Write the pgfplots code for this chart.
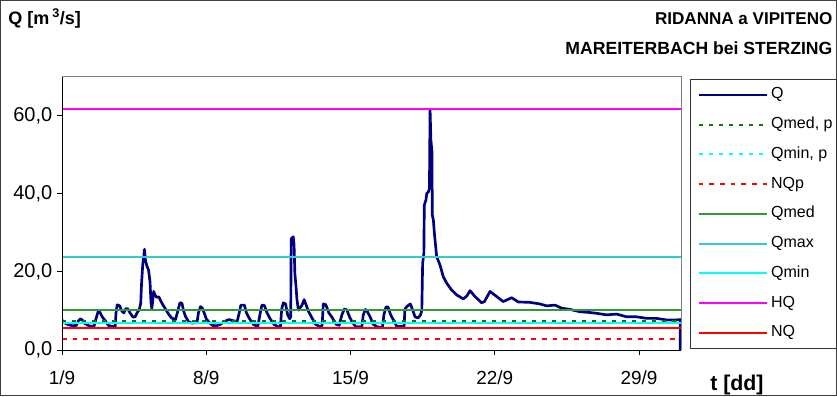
\documentclass[border=0pt]{standalone}
\usepackage{fontspec}
\setmainfont{Liberation Sans}
\usepackage{pgfplots}
\pgfplotsset{compat=1.18}
\definecolor{qnavy}{HTML}{000080}
\definecolor{qmedp}{HTML}{008000}
\definecolor{qcyan}{HTML}{00FFFF}
\definecolor{qred}{HTML}{FF0000}
\definecolor{qmed}{HTML}{339933}
\definecolor{qmax}{HTML}{33CCCC}
\definecolor{qhq}{HTML}{FF00FF}
\begin{document}
\begin{tikzpicture}
\useasboundingbox (0,0) rectangle (627.75pt,297pt);
\draw[black!75, line width=0.75pt] (0.375pt,0.375pt) rectangle (627.375pt,296.625pt);
\node[anchor=base west, font=\bfseries\fontsize{13.5}{15}\selectfont, inner sep=0pt] at (6pt,278.5pt) {Q [m\,\textsuperscript{3}/s]};
\node[anchor=base east, font=\bfseries\fontsize{12.8}{15}\selectfont, inner sep=0pt] at (624.5pt,278.5pt) {RIDANNA a VIPITENO};
\node[anchor=base east, font=\bfseries\fontsize{13.2}{15}\selectfont, inner sep=0pt] at (624.5pt,256pt) {MAREITERBACH bei STERZING};
\node[anchor=base west, font=\bfseries\fontsize{16}{18}\selectfont, inner sep=0pt] at (532.5pt,4pt) {t [dd]};
\begin{axis}[
  name=ax,
  at={(46.5pt,34.5pt)}, anchor=south west,
  width=464.6pt, height=205pt, scale only axis,
  xmin=0, xmax=30.06, ymin=0, ymax=70,
  xtick={0,7,14,21,28}, xticklabels={1/9,8/9,15/9,22/9,29/9},
  ytick={0,20,40,60}, yticklabels={{0,0},{20,0},{40,0},{60,0}},
  tick pos=left, tick align=outside, major tick length=3.75pt,
  tick style={black, line width=0.75pt},
  axis line style={draw=none},
  xticklabel style={font=\fontsize{14.2}{16}\selectfont, yshift=-8pt},
  yticklabel style={font=\fontsize{15}{17}\selectfont},
  clip mode=individual,
  legend style={at={(1,1)}, anchor=north west, xshift=6.4pt, yshift=-1.7pt,
    draw=black!80, line width=0.75pt, font=\fontsize{12}{14}\selectfont,
    inner xsep=3pt, inner ysep=5.6pt, row sep=10.3pt, column sep=2.5pt,
    nodes={inner sep=0pt, text height=9pt, text depth=3pt}, cells={anchor=west}},
  legend image code/.code={\path (0pt,0pt); \draw[#1] (2pt,0pt) -- (53pt,0pt);},
]
\addplot[qnavy, line width=2pt, line join=round] coordinates {
(0,7.7) (0.1,7.0) (0.3,6.5) (0.5,6.2) (0.7,6.3) (0.8,7.5) (0.9,8.0) (1.0,7.6) (1.1,6.8) (1.3,6.2) (1.55,6.0)
(1.65,8.0) (1.75,9.8) (1.85,9.6) (1.95,8.5) (2.1,7.5) (2.25,6.3) (2.45,6.0) (2.58,6.0)
(2.62,9.5) (2.68,11.6) (2.8,11.3) (2.9,10.0) (3.0,9.5) (3.1,10.6) (3.2,10.5) (3.3,9.5) (3.45,8.4) (3.55,8.5) (3.65,9.6) (3.75,10.3)
(3.82,12) (3.86,17) (3.92,22) (3.97,24) (4.0,25.8) (4.05,23) (4.12,21.5) (4.2,20.5) (4.27,17.5) (4.32,12) (4.36,10.6) (4.4,12.5) (4.45,15)
(4.52,14) (4.6,13.5) (4.7,13.6) (4.8,12.5) (4.9,11.5) (5.0,10.7) (5.1,9.8) (5.2,9.0) (5.3,8.3) (5.4,8.0) (5.5,7.7)
(5.62,10) (5.72,12.1) (5.82,12) (5.9,10) (6.0,8.5) (6.15,7.2) (6.3,6.9) (6.55,7.0)
(6.62,9.5) (6.72,11.1) (6.8,10.8) (6.9,9.5) (7.0,8.0) (7.15,7.0) (7.3,6.3) (7.5,6.2) (7.7,6.6)
(7.8,7.0) (8.0,7.6) (8.1,7.8) (8.3,7.5) (8.5,7.3)
(8.6,9.5) (8.68,11.5) (8.85,11.5) (8.95,9.5) (9.1,8.0) (9.3,6.5) (9.5,6.0)
(9.62,9.5) (9.7,11.5) (9.82,11.4) (9.95,9.5) (10.1,8.0) (10.3,6.5) (10.5,5.9) (10.6,6.0)
(10.66,10.5) (10.74,12.1) (10.85,11.8) (10.95,9.0) (11.05,8.0) (11.1,8.5) (11.12,28.5) (11.22,29.0) (11.26,27) (11.3,19.6) (11.36,16)
(11.4,13.0) (11.47,10.2) (11.55,10.8) (11.65,11.5) (11.75,12.9) (11.85,11.5) (11.95,10.0) (12.1,8.5) (12.3,6.6) (12.5,6.0) (12.62,6.2)
(12.68,11.8) (12.8,11.6) (12.95,9.5) (13.1,8.4) (13.3,6.6) (13.45,6.3)
(13.58,9.0) (13.7,10.5) (13.82,10.3) (13.95,8.5) (14.1,7.0) (14.25,6.0) (14.55,5.9)
(14.62,9.0) (14.72,10.4) (14.82,9.8) (14.95,8.5) (15.1,6.6) (15.3,5.9) (15.55,5.8)
(15.62,9.0) (15.72,11.0) (15.82,11.0) (15.95,9.0) (16.1,7.5) (16.25,6.0) (16.6,6.0)
(16.64,10.5) (16.75,11.2) (16.9,11.8) (17.0,10.5) (17.13,8.5) (17.28,8.2) (17.4,9.0) (17.46,10.2) (17.5,22.2) (17.56,24.8)
(17.58,37.1) (17.66,38.4) (17.7,40.1) (17.78,40.5) (17.83,41.4) (17.86,61.7) (17.9,53.8) (17.95,51) (17.97,34.6) (18.02,33.3)
(18.07,29.9) (18.18,23.9) (18.34,21.8) (18.5,18.8) (18.67,17.1) (18.9,15.4) (19.15,14.1) (19.47,13.1) (19.64,13.8) (19.8,15.2)
(20.04,13.7) (20.36,12.1) (20.5,12.4) (20.77,15.0) (21.09,13.7) (21.41,12.4) (21.82,13.4) (22.14,12.3) (22.7,12.2) (23.19,11.8)
(23.52,11.3) (23.92,11.5) (24.25,10.7) (24.65,10.4) (25.13,9.8) (25.62,9.6) (25.94,9.4) (26.43,9.0) (26.91,9.2) (27.4,8.5)
(27.88,8.5) (28.37,8.1) (28.85,8.1) (29.34,7.7) (29.82,7.7) (30.0,7.8) (30.0,0)
};
\addlegendentry{Q}
\addplot[qmedp, line width=1.4pt, dash pattern=on 3pt off 4.5pt] coordinates {(0,7.5) (30.06,7.5)};
\addlegendentry{Qmed, p}
\addplot[qcyan, line width=1.4pt, dash pattern=on 3pt off 4.5pt] coordinates {(0,7.0) (30.06,7.0)};
\addlegendentry{Qmin, p}
\addplot[qred, line width=1.5pt, dash pattern=on 3.5pt off 4.5pt] coordinates {(0,2.7) (30.06,2.7)};
\addlegendentry{NQp}
\addplot[qmed, line width=1.4pt] coordinates {(0,10.2) (30.06,10.2)};
\addlegendentry{Qmed}
\addplot[qmax, line width=1.4pt] coordinates {(0,23.9) (30.06,23.9)};
\addlegendentry{Qmax}
\addplot[qcyan, line width=1.4pt] coordinates {(0,7.0) (30.06,7.0)};
\addlegendentry{Qmin}
\addplot[qhq, line width=1.4pt] coordinates {(0,61.7) (30.06,61.7)};
\addlegendentry{HQ}
\addplot[qred, line width=1.4pt] coordinates {(0,5.55) (30.06,5.55)};
\addlegendentry{NQ}
\end{axis}
\draw[black!50, line width=1.2pt] (ax.north west) -- (ax.north east) -- (ax.south east);
\draw[black, line width=0.75pt] (ax.north west) -- (ax.south west) -- (ax.south east);
\end{tikzpicture}
\end{document}
